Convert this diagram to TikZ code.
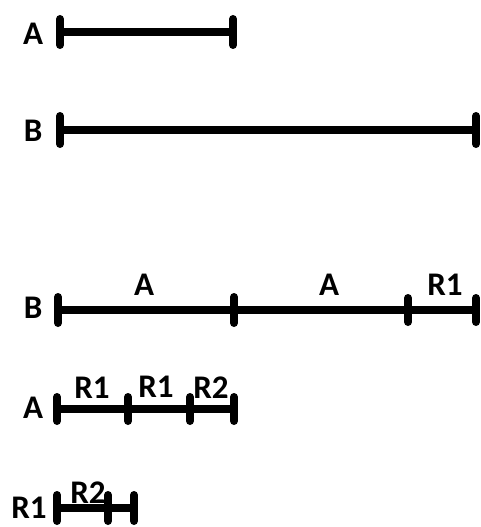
\documentclass[tikz,border=0pt]{standalone}
\usepackage{fontspec}
\setmainfont{Carlito}
\begin{document}
\begin{tikzpicture}[x=1pt,y=-1pt,
  seg/.style={line width=8pt},
  tick/.style={line width=8pt,line cap=round},
  lbl/.style={font=\bfseries\fontsize{33}{33}\selectfont,inner sep=0pt}]
\useasboundingbox (0,0) rectangle (480,527);
% helper: tick at coordinate
\newcommand{\tk}[3]{\draw[tick] (#1,#2-#3) -- (#1,#2+#3);}
% Line A
\coordinate (a0) at (60,32); \coordinate (a1) at (233,32);
\draw[seg] (a0) -- (a1);
\tk{60}{32}{13}\tk{233}{32}{13}
\node[lbl] (la) at (33,34) {A};
% Line B
\coordinate (b0) at (60,130); \coordinate (b1) at (476,130);
\draw[seg] (b0) -- (b1);
\tk{60}{130}{14}\tk{476}{130}{14}
\node[lbl] (lb) at (33,131) {B};
% B decomposed
\coordinate (c0) at (58,310); \coordinate (c1) at (234,310);
\coordinate (c2) at (408,310); \coordinate (c3) at (476,310);
\draw[seg] (c0) -- (c3);
\tk{58}{310}{13}\tk{234}{310}{13}\tk{408}{310}{12}\tk{476}{310}{12}
\node[lbl] (lb2) at (33,308) {B};
\node[lbl] (ca1) at (144,285) {A};
\node[lbl] (ca2) at (329,285) {A};
\node[lbl] (cr1) at (445,285) {R1};
% A decomposed
\coordinate (d0) at (57,409); \coordinate (d1) at (128,409);
\coordinate (d2) at (190,409); \coordinate (d3) at (234,409);
\draw[seg] (d0) -- (d3);
\tk{57}{409}{12}\tk{128}{409}{12}\tk{190}{409}{12}\tk{234}{409}{12}
\node[lbl] (la2) at (33,408) {A};
\node[lbl] (dr1) at (92,388) {R1};
\node[lbl] (dr2) at (156,387) {R1};
\node[lbl] (dr3) at (211,388) {R2};
% R1 decomposed
\coordinate (e0) at (57,508); \coordinate (e1) at (108,508); \coordinate (e2) at (134,508);
\draw[seg] (e0) -- (e2);
\tk{57}{508}{13}\tk{108}{508}{13}\tk{134}{508}{13}
\node[lbl] (lr1) at (29,508) {R1};
\node[lbl] (er2) at (88,493) {R2};
\end{tikzpicture}
\end{document}
